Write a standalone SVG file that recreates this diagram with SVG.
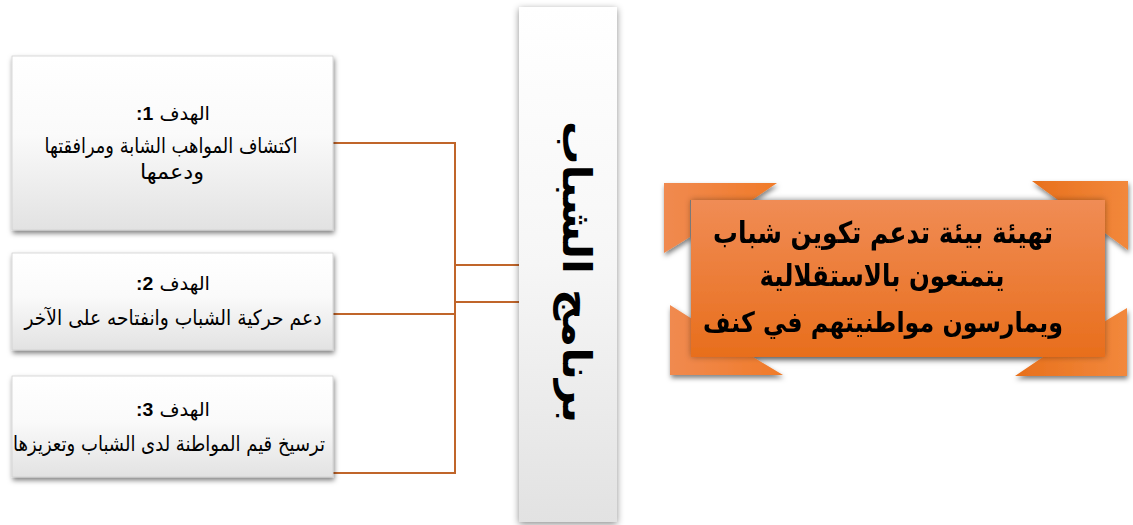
<svg xmlns="http://www.w3.org/2000/svg" width="1133" height="525" viewBox="0 0 1133 525">
  <defs>
    <linearGradient id="gBox" x1="0" y1="0" x2="0" y2="1">
      <stop offset="0" stop-color="#ffffff"/>
      <stop offset="0.45" stop-color="#fafafa"/>
      <stop offset="1" stop-color="#e2e2e2"/>
    </linearGradient>
    <linearGradient id="gCol" x1="0" y1="0" x2="0" y2="1">
      <stop offset="0" stop-color="#ffffff"/>
      <stop offset="0.5" stop-color="#f6f6f6"/>
      <stop offset="1" stop-color="#e2e2e2"/>
    </linearGradient>
    <linearGradient id="gOr" x1="0" y1="0" x2="0" y2="1">
      <stop offset="0" stop-color="#f08c55"/>
      <stop offset="1" stop-color="#e86e1c"/>
    </linearGradient>
    <linearGradient id="gTab" x1="0" y1="0" x2="1" y2="0">
      <stop offset="0" stop-color="#f08a50"/>
      <stop offset="1" stop-color="#f07a28"/>
    </linearGradient>
    <linearGradient id="gTab2" x1="0" y1="0" x2="1" y2="0">
      <stop offset="0" stop-color="#e8701c"/>
      <stop offset="1" stop-color="#f2883c"/>
    </linearGradient>
    <filter id="shadow" x="-10%" y="-10%" width="125%" height="130%">
      <feDropShadow dx="1" dy="3" stdDeviation="2.5" flood-color="#000" flood-opacity="0.5"/>
    </filter>
    <filter id="shadowCol" x="-20%" y="-5%" width="140%" height="110%">
      <feDropShadow dx="0" dy="2" stdDeviation="3.5" flood-color="#000" flood-opacity="0.45"/>
    </filter>
    <filter id="inner" x="-5%" y="-5%" width="110%" height="110%">
      <feDropShadow dx="0" dy="0" stdDeviation="3" flood-color="#000" flood-opacity="0.35"/>
    </filter>
    <style>
      .box { fill: url(#gBox); stroke: #d0d0d0; stroke-width: 0.8; filter: url(#shadow); }
      .txt { font-family: "DejaVu Sans", "Liberation Sans", sans-serif; font-size: 21px; fill: #000; text-anchor: middle; }
      .hd { font-size: 19px; }
      .num { font-family: "Liberation Sans", "DejaVu Sans", sans-serif; font-weight: bold; }
      .conn { fill: none; stroke: #c0652a; stroke-width: 2; }
      .big { font-family: "DejaVu Sans", sans-serif; font-weight: bold; fill: #000; text-anchor: middle; }
    </style>
  </defs>

  <g id="connectors">
    <polyline class="conn" points="333,143 455,143 455,473 333,473"/>
    <line class="conn" x1="333" y1="314" x2="455" y2="314"/>
    <line class="conn" x1="455" y1="265" x2="519" y2="265"/>
    <line class="conn" x1="455" y1="302" x2="519" y2="302"/>
  </g>

  <g id="goal1">
    <rect class="box" x="12" y="56" width="321" height="174"/>
    <text class="txt hd" x="173" y="120" direction="rtl" textLength="74" lengthAdjust="spacingAndGlyphs">الهدف <tspan class="num">1:</tspan></text>
    <text class="txt" x="171" y="153" textLength="253" lengthAdjust="spacingAndGlyphs">اكتشاف المواهب الشابة ومرافقتها</text>
    <text class="txt" x="172" y="179" textLength="64" lengthAdjust="spacingAndGlyphs">ودعمها</text>
  </g>

  <g id="goal2">
    <rect class="box" x="12" y="253" width="321" height="97"/>
    <text class="txt hd" x="173" y="290" direction="rtl" textLength="74" lengthAdjust="spacingAndGlyphs">الهدف <tspan class="num">2:</tspan></text>
    <text class="txt" x="173" y="325" textLength="297" lengthAdjust="spacingAndGlyphs">دعم حركية الشباب وانفتاحه على الآخر</text>
  </g>

  <g id="goal3">
    <rect class="box" x="12" y="376" width="321" height="101"/>
    <text class="txt hd" x="173" y="416" direction="rtl" textLength="74" lengthAdjust="spacingAndGlyphs">الهدف <tspan class="num">3:</tspan></text>
    <text class="txt" x="169" y="451" textLength="312" lengthAdjust="spacingAndGlyphs">ترسيخ قيم المواطنة لدى الشباب وتعزيزها</text>
  </g>

  <g id="program">
    <rect x="519" y="7" width="98" height="515" fill="url(#gCol)" filter="url(#shadowCol)"/>
    <text class="big" font-size="40" transform="translate(563,272) rotate(90)" textLength="302" lengthAdjust="spacingAndGlyphs">برنامج الشباب</text>
  </g>

  <g id="goal-main" filter="url(#shadow)">
    <polygon points="664,183 777,183 752,200 690,200 690,237 664,253" fill="url(#gTab)"/>
    <polygon points="1032,181 1128,181 1128,250 1105,233 1105,200 1058,200" fill="url(#gTab2)"/>
    <polygon points="670,305 697,322 697,357 753,357 783,375 670,375" fill="url(#gTab)"/>
    <polygon points="1127,308 1102,323 1102,357 1043,357 1015,376 1127,376" fill="url(#gTab2)"/>
    <rect x="691" y="200" width="414" height="157" fill="url(#gOr)" filter="url(#inner)"/>
    <text class="big" font-size="30" x="883" y="243" textLength="340" lengthAdjust="spacingAndGlyphs">تهيئة بيئة تدعم تكوين شباب</text>
    <text class="big" font-size="30" x="882" y="286" textLength="245" lengthAdjust="spacingAndGlyphs">يتمتعون بالاستقلالية</text>
    <text class="big" font-size="28" x="883" y="332" textLength="360" lengthAdjust="spacingAndGlyphs">ويمارسون مواطنيتهم في كنف</text>
  </g>
</svg>
